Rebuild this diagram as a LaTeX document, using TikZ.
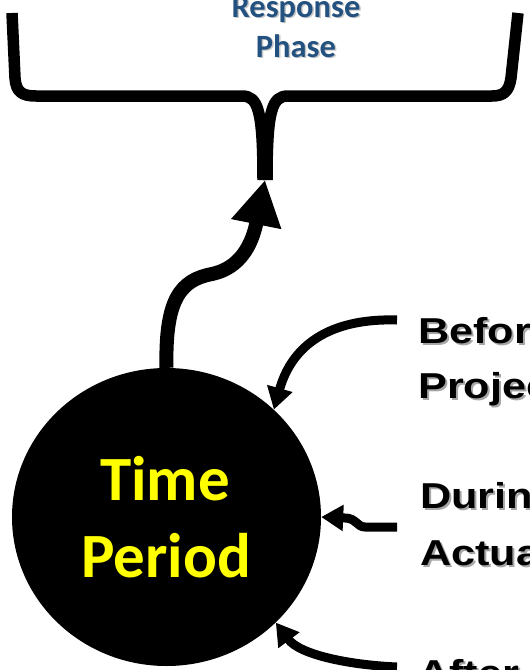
\documentclass[tikz,border=0pt]{standalone}
\usepackage{fontspec}
\usetikzlibrary{arrows.meta,shapes.geometric}
\newfontfamily\carlitof{Carlito}
\newfontfamily\arialf{Liberation Sans}[FakeStretch=1.2]
\definecolor{phaseblue}{RGB}{36,82,128}
\definecolor{tpyellow}{RGB}{255,255,0}
\tikzset{
  bracepath/.style={line width=11.5pt, line cap=butt, line join=round},
  bigarrow/.style={line width=14pt, -{Triangle[length=45pt,width=48pt]}},
  sidearrow/.style={line width=9pt, -{Triangle[length=22pt,width=25pt]}},
  timetxt/.style={text=tpyellow, inner sep=0pt, font=\carlitof\bfseries\fontsize{63}{77}\selectfont},
  phasetxt/.style={text=phaseblue, inner sep=0pt, font=\carlitof\bfseries\fontsize{32.5}{40}\selectfont},
  phaseshadow/.style={text=black!22, inner sep=0pt, font=\carlitof\bfseries\fontsize{32.5}{40}\selectfont},
  sidetxt/.style={text=black, inner sep=0pt, font=\arialf\bfseries\fontsize{36}{44}\selectfont},
  sideshadow/.style={text=black!35, inner sep=0pt, font=\arialf\bfseries\fontsize{36}{44}\selectfont}
}
\begin{document}
\begin{tikzpicture}[x=1pt,y=-1pt]
\useasboundingbox (0,0) rectangle (530,670);
\clip (0,0) rectangle (530,670);
\fill[white] (0,0) rectangle (530,670);

% heading text
\node[phaseshadow, anchor=base] (r1s) at (297.5,18.5) {Response};
\node[phaseshadow, anchor=base] (r2s) at (297.5,58.5) {Phase};
\node[phasetxt, anchor=base] (r1) at (296,17) {Response};
\node[phasetxt, anchor=base] (r2) at (296,57) {Phase};

% brace
\draw[bracepath] (12,13) -- (15,78) .. controls (16,92) and (22,96) .. (36,96)
  -- (242,96) .. controls (258,96) and (263,110) .. (263,180);
\draw[bracepath] (518,13) -- (511,78) .. controls (509,92) and (503,96) .. (492,96)
  -- (288,96) .. controls (272,96) and (267,110) .. (267,180);
\coordinate (brace) at (265,180);

% central circle
\node[ellipse, fill=black, draw=none, minimum width=309pt, minimum height=298pt, inner sep=0pt] (tp) at (166.5,517) {};
\node[timetxt, anchor=base] (t1) at (165,500) {Time};
\node[timetxt, anchor=base] (t2) at (166,577) {Period};

% arrow to brace
\draw[bigarrow] (tp.north) .. controls (165,300) and (180,280) .. (212,274)
  .. controls (240,268) and (252,245) .. (brace);

% side texts
\node[sideshadow, anchor=base west] (b1s) at (420,345) {Before};
\node[sideshadow, anchor=base west] (b2s) at (420,400) {Project};
\node[sideshadow, anchor=base west] (d1s) at (422,510) {During};
\node[sideshadow, anchor=base west] (d2s) at (422,567) {Actual};
\node[sideshadow, anchor=base west] (a1s) at (420,687) {After};
\node[sidetxt, anchor=base west] (b1) at (418,343) {Before};
\node[sidetxt, anchor=base west] (b2) at (418,398) {Project};
\node[sidetxt, anchor=base west] (d1) at (420,508) {During};
\node[sidetxt, anchor=base west] (d2) at (420,565) {Actual};
\node[sidetxt, anchor=base west] (a1) at (418,685) {After};

% side arrows
\coordinate (s1) at (397,320);
\coordinate (s2) at (397,527);
\coordinate (s3) at (397,667);
\draw[sidearrow] (s1) .. controls (330,318) and (292,345) .. (tp.45);
\draw[sidearrow] (s2) -- (365,527) .. controls (357,527) and (356,518) .. (345,518) -- (tp.0);
\draw[sidearrow] (s3) .. controls (350,665) and (300,655) .. (tp.-44);
\end{tikzpicture}
\end{document}
